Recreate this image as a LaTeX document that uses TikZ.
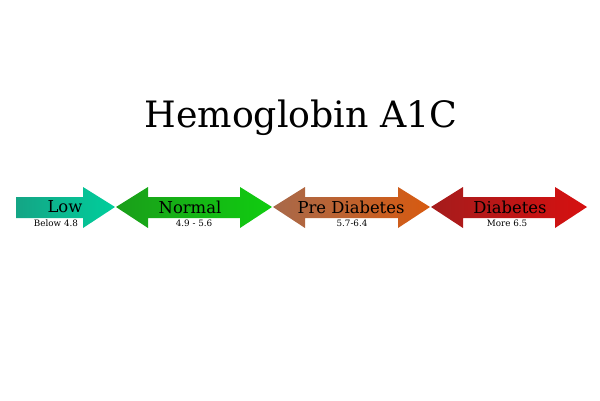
\documentclass[tikz,border=0pt]{standalone}
\usepackage{fontspec}
\setmainfont{DejaVu Serif}
\definecolor{lowL}{HTML}{14A585}
\definecolor{lowR}{HTML}{00CE9C}
\definecolor{normL}{HTML}{1A9E1A}
\definecolor{normR}{HTML}{10CC10}
\definecolor{preL}{HTML}{A8694A}
\definecolor{preR}{HTML}{D75A10}
\definecolor{diaL}{HTML}{A51C1C}
\definecolor{diaR}{HTML}{D61010}
\tikzset{
  band/.style={font=\fontsize{14}{14}\selectfont, inner sep=0pt},
  rangetext/.style={font=\fontsize{7.5}{7.5}\selectfont, inner sep=0pt}
}
% double arrow from left tip #1 to right tip #2
\newcommand{\twoway}[3]{%
  \shade[left color=#3L, right color=#3R]
    (#1,207) -- (#1+32,187) -- (#1+32,197) -- (#2-32,197) -- (#2-32,187) -- (#2,207)
    -- (#2-32,228) -- (#2-32,218) -- (#1+32,218) -- (#1+32,228) -- cycle;}
\begin{document}
\begin{tikzpicture}[x=0.03cm, y=-0.03cm]
    \useasboundingbox (0,0) rectangle (600,400);

    % Title
    \node (title) at (301,118) {\fontsize{31}{31}\selectfont Hemoglobin A1C};

    % Low
    \shade[left color=lowL, right color=lowR]
      (16,197) -- (83,197) -- (83,187) -- (115,207) -- (83,228) -- (83,218) -- (16,218) -- cycle;
    \node[band] (low) at (65,207) {Low};
    \node[rangetext] (lowv) at (56,223) {Below 4.8};

    % Normal
    \twoway{116}{272}{norm}
    \node[band] (normal) at (190,207) {Normal};
    \node[rangetext] (normalv) at (194,223) {4.9 - 5.6};

    % Pre Diabetes
    \twoway{273}{430}{pre}
    \node[band] (pre) at (351,207) {Pre Diabetes};
    \node[rangetext] (prev) at (352,223) {5.7-6.4};

    % Diabetes
    \twoway{431}{587}{dia}
    \node[band] (dia) at (510,207) {Diabetes};
    \node[rangetext] (diav) at (507,223) {More 6.5};

\end{tikzpicture}
\end{document}
